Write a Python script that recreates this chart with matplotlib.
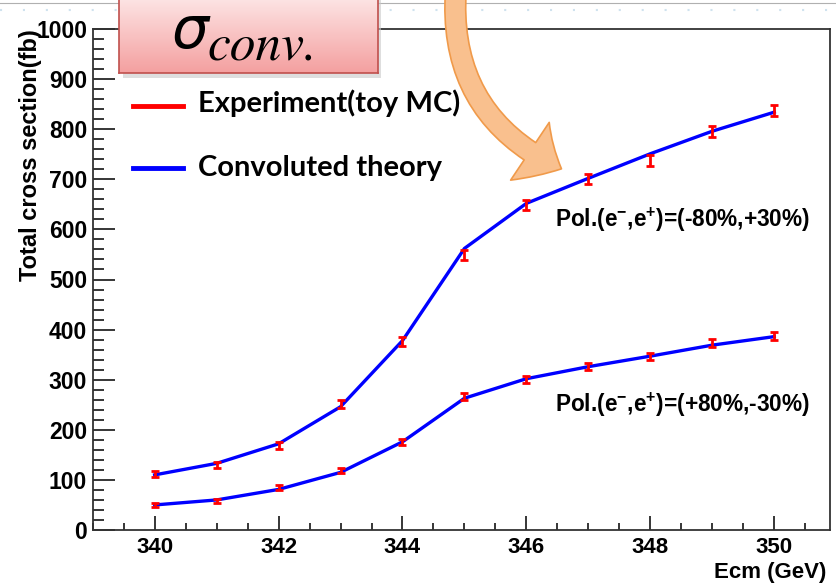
import numpy as np
import matplotlib
matplotlib.use('Agg')
import matplotlib.pyplot as plt
from matplotlib.patches import FancyArrowPatch, Rectangle
from matplotlib.lines import Line2D
from matplotlib.colors import LinearSegmentedColormap
from matplotlib.ticker import MultipleLocator

# values
ecm = [340, 341, 342, 343, 344, 345, 346, 347, 348, 349, 350]
theory_m80 = [110, 133, 172, 246, 378, 562, 652, 702, 751, 796, 834]
toymc_m80 = [111, 129, 168, 251, 376, 549, 649, 701, 738, 796, 837]
err_m80 = [6, 6, 7, 8, 9, 10, 10, 10, 11, 11, 11]
theory_p80 = [50, 60, 81, 115, 176, 263, 302, 326, 347, 369, 386]
toymc_p80 = [50, 58, 84, 119, 176, 267, 300, 326, 347, 373, 387]
err_p80 = [4, 4, 5, 5, 6, 7, 7, 7, 7, 8, 8]

label_m80 = r'Pol.(e$^{\mathbf{-}}$,e$^{\mathbf{+}}$)=(-80%,+30%)'
label_p80 = r'Pol.(e$^{\mathbf{-}}$,e$^{\mathbf{+}}$)=(+80%,-30%)'

plt.rcParams['font.family'] = ['Liberation Sans', 'DejaVu Sans']
plt.rcParams['mathtext.fontset'] = 'custom'
plt.rcParams['mathtext.rm'] = 'Liberation Sans'
plt.rcParams['mathtext.bf'] = 'Liberation Sans:bold'

W, H = 836, 584
fig = plt.figure(figsize=(W / 100, H / 100), dpi=100)


def fx(px):
    return px / W


def fy(py):
    return 1 - py / H


ax = fig.add_axes([fx(92.7), fy(530), fx(830) - fx(92.7), fy(29) - fy(530)])

ax.plot(ecm, theory_m80, color='#0000ff', lw=2.4, zorder=2)
ax.plot(ecm, theory_p80, color='#0000ff', lw=2.4, zorder=2)
ax.errorbar(ecm, toymc_m80, yerr=err_m80, fmt='none', ecolor='#ff0000',
            elinewidth=2.0, capsize=3.0, capthick=2.0, zorder=3)
ax.errorbar(ecm, toymc_p80, yerr=err_p80, fmt='none', ecolor='#ff0000',
            elinewidth=2.0, capsize=3.0, capthick=2.0, zorder=3)

ax.set_xlim(339.0, 350.9)
ax.set_ylim(0, 1000)
ax.xaxis.set_major_locator(MultipleLocator(2))
ax.xaxis.set_minor_locator(MultipleLocator(0.5))
ax.yaxis.set_major_locator(MultipleLocator(100))
ax.yaxis.set_minor_locator(MultipleLocator(20))
ax.tick_params(axis='x', which='major', direction='in', length=10, width=1.1,
               pad=5, labelsize=16)
ax.tick_params(axis='x', which='minor', direction='in', length=5, width=1.1)
ax.tick_params(axis='y', which='major', direction='in', length=16, width=1.1,
               pad=4, labelsize=16.5)
ax.tick_params(axis='y', which='minor', direction='in', length=8, width=1.1)
for lab in ax.get_xticklabels() + ax.get_yticklabels():
    lab.set_fontweight('bold')
for s in ax.spines.values():
    s.set_linewidth(1.3)
    s.set_color('#333333')

fig.text(fx(555), fy(220), label_m80, fontsize=16.3, fontweight='bold',
         va='center', ha='left')
fig.text(fx(555), fy(405), label_p80, fontsize=16.3, fontweight='bold',
         va='center', ha='left')

fig.text(fx(31), fy(29), 'Total cross section(fb)', rotation=90, fontsize=17,
         fontweight='bold', ha='center', va='top')
fig.text(fx(826), fy(583), 'Ecm (GeV)', fontsize=16, fontweight='bold',
         ha='right', va='bottom')

# slide decoration along the top
fig.add_artist(Line2D([0, 1], [fy(3), fy(3)], transform=fig.transFigure,
                      color='#b0b0b0', lw=0.8))
fig.add_artist(Line2D([0, 1], [fy(10), fy(10)], transform=fig.transFigure,
                      color='#cfe2ee', lw=1.5, ls=(0, (1, 10))))

# sigma_conv box with gradient
fig.add_artist(Rectangle((fx(123), fy(78)), fx(258), fy(0) - fy(80),
                         transform=fig.transFigure, fc='#c8c8c8', ec='none',
                         alpha=0.6, zorder=4))
bax = fig.add_axes([fx(119), fy(73), fx(259), fy(-2) - fy(73)], zorder=5)
grad = np.linspace(0, 1, 64).reshape(-1, 1)
bax.imshow(grad, aspect='auto', extent=[0, 1, 0, 1], origin='upper',
           cmap=LinearSegmentedColormap.from_list('pink', ['#fde4e4', '#f4a0a0']))
bax.set_xticks([])
bax.set_yticks([])
for s in bax.spines.values():
    s.set_color('#c0504d')
    s.set_linewidth(1.2)
fig.text(fx(171), fy(48), r'$\sigma$', fontsize=42, ha='left', va='baseline',
         family='STIXGeneral', style='italic', zorder=7)
fig.text(fx(207), fy(60), 'conv.', fontsize=37, ha='left', va='baseline',
         family='STIXGeneral', style='italic', zorder=7)

# legend
fig.add_artist(Line2D([fx(133), fx(183)], [fy(106), fy(106)],
                      transform=fig.transFigure, color='#ff0000', lw=3.5))
fig.add_artist(Line2D([fx(133), fx(183)], [fy(168), fy(168)],
                      transform=fig.transFigure, color='#0000ff', lw=3.5))
fig.text(fx(198), fy(103), 'Experiment(toy MC)', family=['Lato', 'DejaVu Sans'],
         fontsize=21, fontweight='bold', va='center', ha='left')
fig.text(fx(198), fy(168), 'Convoluted theory', family=['Lato', 'DejaVu Sans'],
         fontsize=21, fontweight='bold', va='center', ha='left')

# curved orange arrow
arrow = FancyArrowPatch((fx(456), fy(-12)), (fx(564), fy(170)),
                        transform=fig.transFigure,
                        connectionstyle='arc3,rad=0.35',
                        arrowstyle='simple,head_length=26,head_width=50,tail_width=15',
                        mutation_scale=1, fc='#f9c08e', ec='#f09a4a', lw=1.2,
                        zorder=6)
fig.add_artist(arrow)

fig.savefig('out.png', dpi=100)
